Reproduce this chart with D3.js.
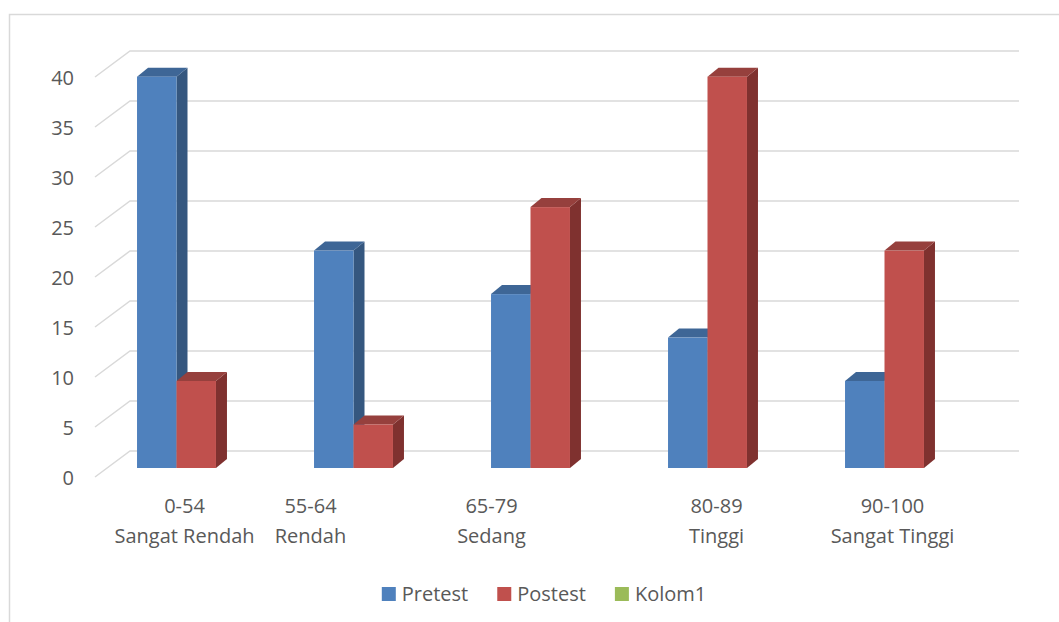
<!DOCTYPE html>
<html>
<head>
<meta charset="utf-8">
<script src="https://cdn.jsdelivr.net/npm/d3@7"></script>
<style>
  html, body { margin: 0; padding: 0; background: #ffffff; }
  svg { display: block; }
  text { font-family: "Open Sans", "Noto Sans", sans-serif; fill: #595959; }
</style>
</head>
<body>
<svg id="chart" width="1059" height="622"></svg>
<script>
// Score ranges and their level names (two-line category labels)
const rangeLabels = ["0-54", "55-64", "65-79", "80-89", "90-100"];
const levelLabels = ["Sangat Rendah", "Rendah", "Sedang", "Tinggi", "Sangat Tinggi"];

// Percentage of students per category
const pretest = [39.13, 21.74, 17.39, 13.04, 8.70];
const postest = [8.70, 4.35, 26.09, 39.13, 21.74];
const kolom1 = [];

const seriesNames = ["Pretest", "Postest", "Kolom1"];
const yTicks = [0, 5, 10, 15, 20, 25, 30, 35, 40];

// Face colours per series: front, top, side
const palette = {
  Pretest: { front: "#4F81BD", top: "#3E6696", side: "#35577F" },
  Postest: { front: "#C0504D", top: "#96403D", side: "#7F312F" },
  Kolom1:  { front: "#9BBB59", top: "#7C9747", side: "#68803C" }
};

const seriesValues = { Pretest: pretest, Postest: postest, Kolom1: kolom1 };

const svg = d3.select("#chart");

// Chart area border (open on the right and bottom)
svg.append("path")
  .attr("d", "M9.5,622 L9.5,14.5 L1059,14.5")
  .attr("fill", "none")
  .attr("stroke", "#D9D9D9")
  .attr("stroke-width", 1.5);

// 3D projection: front edge of the floor, back wall, and the plane the bars sit in
const yFront = d3.scaleLinear().domain([0, 40]).range([477, 77]);
const yBack  = d3.scaleLinear().domain([0, 40]).range([451, 51]);
const yBar   = d3.scaleLinear().domain([0, 40]).range([468, 68]);
const frontX = 95, backX = 130, backRight = 1019;
const depthX = 11, depthY = 9;

// Gridlines: slanted side-wall segment plus the back-wall line
const grid = svg.append("g").attr("class", "grid")
  .attr("fill", "none").attr("stroke", "#D9D9D9").attr("stroke-width", 1.5);
grid.selectAll("path").data(yTicks).join("path")
  .attr("d", v => `M${frontX},${yFront(v)} L${backX},${yBack(v)} L${backRight},${yBack(v)}`);

// Value axis labels
const yAxis = d3.axisLeft(yFront).tickValues(yTicks).tickSize(0).tickPadding(21);
const yAxisG = svg.append("g").attr("transform", `translate(${frontX},1)`).call(yAxis);
yAxisG.select(".domain").remove();
yAxisG.selectAll("text")
  .attr("font-family", "Open Sans")
  .attr("font-size", 20)
  .attr("fill", "#595959");

// Category and series bands
const x0 = d3.scaleBand().domain(rangeLabels).range([88, 973])
  .paddingInner(0.554).paddingOuter(0.277);
const barSeries = ["Pretest", "Postest"];
const x1 = d3.scaleBand().domain(barSeries).range([0, x0.bandwidth()]);

const bars = [];
rangeLabels.forEach((cat, i) => {
  barSeries.forEach(s => {
    bars.push({ cat, series: s, value: seriesValues[s][i] });
  });
});

const barG = svg.append("g").attr("class", "bars");
const w = x1.bandwidth();
const barGroups = barG.selectAll("g").data(bars).join("g");

barGroups.each(function (d) {
  const g = d3.select(this);
  const xl = x0(d.cat) + x1(d.series);
  const xr = xl + w;
  const yt = yBar(d.value);
  const yb = yBar(0);
  const c = palette[d.series];
  // side face
  g.append("path")
    .attr("d", `M${xr},${yt} L${xr + depthX},${yt - depthY} L${xr + depthX},${yb - depthY} L${xr},${yb} Z`)
    .attr("fill", c.side);
  // top face
  g.append("path")
    .attr("d", `M${xl},${yt} L${xl + depthX},${yt - depthY} L${xr + depthX},${yt - depthY} L${xr},${yt} Z`)
    .attr("fill", c.top);
  // front face
  g.append("rect")
    .attr("x", xl).attr("y", yt)
    .attr("width", w).attr("height", yb - yt)
    .attr("fill", c.front);
});

// Category labels (two lines: score range and level)
const labelNudge = [8, -43, -39, 9, 8];
const catG = svg.append("g").attr("class", "categories")
  .attr("font-size", 20).attr("text-anchor", "middle");
rangeLabels.forEach((cat, i) => {
  const cx = x0(cat) + x0.bandwidth() / 2 + labelNudge[i];
  const t = catG.append("text").attr("x", cx).attr("y", 513);
  t.append("tspan").attr("x", cx).text(cat);
  t.append("tspan").attr("x", cx).attr("dy", 30).text(levelLabels[i]);
});

// Legend, centred below the plot
const legend = svg.append("g").attr("class", "legend").attr("font-size", 20);
const items = legend.selectAll("g").data(seriesNames).join("g");
items.append("rect")
  .attr("width", 14).attr("height", 14)
  .attr("y", 587)
  .attr("fill", d => palette[d].front);
items.append("text")
  .attr("x", 20).attr("y", 601)
  .text(d => d);
let cursor = 0;
const widths = [];
items.each(function () {
  const tw = d3.select(this).select("text").node().getComputedTextLength();
  widths.push(20 + tw);
});
const gap = 29;
const total = d3.sum(widths) + gap * (widths.length - 1);
cursor = 544 - total / 2;
items.each(function (d, i) {
  d3.select(this).attr("transform", `translate(${cursor},0)`);
  cursor += widths[i] + gap;
});
</script>
</body>
</html>
